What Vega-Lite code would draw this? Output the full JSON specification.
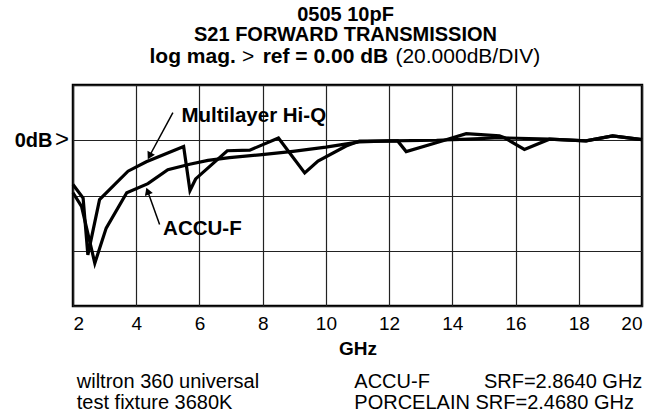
{
  "$schema": "https://vega.github.io/schema/vega-lite/v6.json",
  "width": 569,
  "height": 221,
  "autosize": {"type": "none"},
  "padding": {"left": 73, "top": 85, "right": 20, "bottom": 108},
  "background": "white",
  "config": {
    "font": "Liberation Sans",
    "view": {"stroke": "black", "strokeWidth": 2.5},
    "axis": {
      "grid": true,
      "gridColor": "#222",
      "gridWidth": 1.2,
      "gridOpacity": 1,
      "ticks": false,
      "domain": false,
      "labelColor": "black",
      "labelFont": "Liberation Sans",
      "titleFont": "Liberation Sans",
      "titleColor": "black"
    }
  },
  "title": {
    "text": ["0505 10pF", "S21 FORWARD TRANSMISSION"],
    "fontSize": 20,
    "fontWeight": "bold",
    "color": "black",
    "font": "Liberation Sans",
    "anchor": "middle",
    "frame": "group",
    "dx": -12,
    "lineHeight": 20,
    "offset": 1
  },
  "datasets": {
    "curves": [
      {"series": "Multilayer Hi-Q", "ghz": 2.0, "db": -16.0},
      {"series": "Multilayer Hi-Q", "ghz": 2.32, "db": -20.9},
      {"series": "Multilayer Hi-Q", "ghz": 2.47, "db": -41.5},
      {"series": "Multilayer Hi-Q", "ghz": 2.84, "db": -21.5},
      {"series": "Multilayer Hi-Q", "ghz": 3.74, "db": -11.2},
      {"series": "Multilayer Hi-Q", "ghz": 4.32, "db": -7.8},
      {"series": "Multilayer Hi-Q", "ghz": 5.5, "db": -2.3},
      {"series": "Multilayer Hi-Q", "ghz": 5.7, "db": -18.2},
      {"series": "Multilayer Hi-Q", "ghz": 5.88, "db": -14.0},
      {"series": "Multilayer Hi-Q", "ghz": 6.88, "db": -3.8},
      {"series": "Multilayer Hi-Q", "ghz": 7.59, "db": -3.6},
      {"series": "Multilayer Hi-Q", "ghz": 8.5, "db": 0.8},
      {"series": "Multilayer Hi-Q", "ghz": 9.33, "db": -11.8},
      {"series": "Multilayer Hi-Q", "ghz": 9.75, "db": -7.5},
      {"series": "Multilayer Hi-Q", "ghz": 10.64, "db": -2.1},
      {"series": "Multilayer Hi-Q", "ghz": 11.06, "db": -0.3},
      {"series": "Multilayer Hi-Q", "ghz": 12.27, "db": -0.25},
      {"series": "Multilayer Hi-Q", "ghz": 12.54, "db": -4.1},
      {"series": "Multilayer Hi-Q", "ghz": 13.49, "db": -0.9},
      {"series": "Multilayer Hi-Q", "ghz": 14.44, "db": 2.4},
      {"series": "Multilayer Hi-Q", "ghz": 15.49, "db": 1.6},
      {"series": "Multilayer Hi-Q", "ghz": 15.65, "db": 0.9},
      {"series": "Multilayer Hi-Q", "ghz": 16.28, "db": -3.3},
      {"series": "Multilayer Hi-Q", "ghz": 17.07, "db": 0.4},
      {"series": "Multilayer Hi-Q", "ghz": 18.23, "db": -0.25},
      {"series": "Multilayer Hi-Q", "ghz": 19.07, "db": 1.6},
      {"series": "Multilayer Hi-Q", "ghz": 20.0, "db": 0.2},
      {"series": "ACCU-F", "ghz": 2.0, "db": -19.0},
      {"series": "ACCU-F", "ghz": 2.27, "db": -23.9},
      {"series": "ACCU-F", "ghz": 2.69, "db": -44.5},
      {"series": "ACCU-F", "ghz": 3.05, "db": -31.8},
      {"series": "ACCU-F", "ghz": 3.7, "db": -19.0},
      {"series": "ACCU-F", "ghz": 4.37, "db": -15.7},
      {"series": "ACCU-F", "ghz": 5.0, "db": -10.7},
      {"series": "ACCU-F", "ghz": 5.69, "db": -8.7},
      {"series": "ACCU-F", "ghz": 6.27, "db": -7.3},
      {"series": "ACCU-F", "ghz": 6.95, "db": -6.3},
      {"series": "ACCU-F", "ghz": 7.9, "db": -5.3},
      {"series": "ACCU-F", "ghz": 8.96, "db": -4.0},
      {"series": "ACCU-F", "ghz": 10.0, "db": -2.5},
      {"series": "ACCU-F", "ghz": 11.06, "db": -0.6},
      {"series": "ACCU-F", "ghz": 12.0, "db": -0.2},
      {"series": "ACCU-F", "ghz": 13.5, "db": 0.0},
      {"series": "ACCU-F", "ghz": 14.5, "db": 0.4},
      {"series": "ACCU-F", "ghz": 15.5, "db": 0.9},
      {"series": "ACCU-F", "ghz": 17.07, "db": 0.4},
      {"series": "ACCU-F", "ghz": 18.23, "db": -0.25},
      {"series": "ACCU-F", "ghz": 19.07, "db": 1.6},
      {"series": "ACCU-F", "ghz": 20.0, "db": 0.2}
    ],
    "arrows": [
      {"series": "Multilayer Hi-Q", "ghz": 5.16, "db": 10.0, "ghz2": 4.42, "db2": -5.7},
      {"series": "ACCU-F", "ghz": 4.74, "db": -30.5, "ghz2": 4.36, "db2": -18.4}
    ],
    "boldNotes": [
      {"label": "Multilayer Hi-Q", "ghz": 5.43, "db": 8.8},
      {"label": "ACCU-F", "ghz": 4.85, "db": -32.3}
    ],
    "titleBold": [
      {"label": "log mag.", "ghz": 4.42, "db": 30.3},
      {"label": "ref = 0.00 dB", "ghz": 8.0, "db": 30.3}
    ],
    "titlePlain": [
      {"label": ">", "ghz": 7.35, "db": 30.3},
      {"label": "(20.000dB/DIV)", "ghz": 12.2, "db": 30.3}
    ],
    "plainNotes": [
      {"label": "wiltron 360 universal", "ghz": 2.12, "db": -87.5},
      {"label": "test fixture 3680K", "ghz": 2.12, "db": -95.2},
      {"label": "ACCU-F", "ghz": 10.9, "db": -87.5},
      {"label": "SRF=2.8640 GHz", "ghz": 15.0, "db": -87.5},
      {"label": "PORCELAIN SRF=2.4680 GHz", "ghz": 10.9, "db": -95.2}
    ],
    "refMark": [
      {"label": ">", "ghz": 2.0, "db": 0.0}
    ]
  },
  "layer": [
    {
      "data": {"name": "curves"},
      "mark": {"type": "line", "color": "black", "strokeWidth": 3.2, "strokeJoin": "miter"},
      "encoding": {
        "x": {
          "field": "ghz", "type": "quantitative",
          "scale": {"domain": [2, 20], "nice": false, "zero": false},
          "axis": {
            "values": [2, 4, 6, 8, 10, 12, 14, 16, 18, 20],
            "title": "GHz",
            "labelFontSize": 19,
            "labelPadding": 8,
            "titleFontSize": 19,
            "titleFontWeight": "bold",
            "titlePadding": 6
          }
        },
        "y": {
          "field": "db", "type": "quantitative",
          "scale": {"domain": [-60, 20], "nice": false, "zero": false},
          "axis": {
            "values": [-60, -40, -20, 0, 20],
            "title": null,
            "labelExpr": "datum.value == 0 ? '0dB' : ''",
            "labelFontSize": 20,
            "labelFontWeight": "bold",
            "labelPadding": 21
          }
        },
        "detail": {"field": "series", "type": "nominal"}
      }
    },
    {
      "data": {"name": "arrows"},
      "mark": {"type": "rule", "color": "black", "strokeWidth": 1.5},
      "encoding": {
        "x": {"field": "ghz", "type": "quantitative", "scale": {"domain": [2, 20], "nice": false, "zero": false}},
        "y": {"field": "db", "type": "quantitative", "scale": {"domain": [-60, 20], "nice": false, "zero": false}},
        "x2": {"field": "ghz2"},
        "y2": {"field": "db2"}
      }
    },
    {
      "data": {"name": "arrows"},
      "transform": [{"filter": "datum.series == 'Multilayer Hi-Q'"}],
      "mark": {"type": "point", "shape": "triangle-up", "filled": true, "color": "black", "opacity": 1, "size": 70, "angle": 208},
      "encoding": {
        "x": {"field": "ghz2", "type": "quantitative", "scale": {"domain": [2, 20], "nice": false, "zero": false}},
        "y": {"field": "db2", "type": "quantitative", "scale": {"domain": [-60, 20], "nice": false, "zero": false}}
      }
    },
    {
      "data": {"name": "arrows"},
      "transform": [{"filter": "datum.series == 'ACCU-F'"}],
      "mark": {"type": "point", "shape": "triangle-up", "filled": true, "color": "black", "opacity": 1, "size": 70, "angle": 340},
      "encoding": {
        "x": {"field": "ghz2", "type": "quantitative", "scale": {"domain": [2, 20], "nice": false, "zero": false}},
        "y": {"field": "db2", "type": "quantitative", "scale": {"domain": [-60, 20], "nice": false, "zero": false}}
      }
    },
    {
      "data": {"name": "boldNotes"},
      "mark": {"type": "text", "align": "left", "baseline": "middle", "fontWeight": "bold", "fontSize": 20.5, "color": "black", "font": "Liberation Sans"},
      "encoding": {
        "x": {"field": "ghz", "type": "quantitative", "scale": {"domain": [2, 20], "nice": false, "zero": false}},
        "y": {"field": "db", "type": "quantitative", "scale": {"domain": [-60, 20], "nice": false, "zero": false}},
        "text": {"field": "label", "type": "nominal"}
      }
    },
    {
      "data": {"name": "titleBold"},
      "mark": {"type": "text", "align": "left", "baseline": "middle", "fontWeight": "bold", "fontSize": 21, "color": "black", "font": "Liberation Sans"},
      "encoding": {
        "x": {"field": "ghz", "type": "quantitative", "scale": {"domain": [2, 20], "nice": false, "zero": false}},
        "y": {"field": "db", "type": "quantitative", "scale": {"domain": [-60, 20], "nice": false, "zero": false}},
        "text": {"field": "label", "type": "nominal"}
      }
    },
    {
      "data": {"name": "titlePlain"},
      "mark": {"type": "text", "align": "left", "baseline": "middle", "fontWeight": "normal", "fontSize": 21, "color": "black", "font": "Liberation Sans"},
      "encoding": {
        "x": {"field": "ghz", "type": "quantitative", "scale": {"domain": [2, 20], "nice": false, "zero": false}},
        "y": {"field": "db", "type": "quantitative", "scale": {"domain": [-60, 20], "nice": false, "zero": false}},
        "text": {"field": "label", "type": "nominal"}
      }
    },
    {
      "data": {"name": "plainNotes"},
      "mark": {"type": "text", "align": "left", "baseline": "middle", "fontWeight": "normal", "fontSize": 20, "color": "black", "font": "Liberation Sans"},
      "encoding": {
        "x": {"field": "ghz", "type": "quantitative", "scale": {"domain": [2, 20], "nice": false, "zero": false}},
        "y": {"field": "db", "type": "quantitative", "scale": {"domain": [-60, 20], "nice": false, "zero": false}},
        "text": {"field": "label", "type": "nominal"}
      }
    },
    {
      "data": {"name": "refMark"},
      "mark": {"type": "text", "align": "right", "baseline": "middle", "fontWeight": "normal", "fontSize": 24, "color": "black", "dx": -4, "font": "Liberation Sans"},
      "encoding": {
        "x": {"field": "ghz", "type": "quantitative", "scale": {"domain": [2, 20], "nice": false, "zero": false}},
        "y": {"field": "db", "type": "quantitative", "scale": {"domain": [-60, 20], "nice": false, "zero": false}},
        "text": {"field": "label", "type": "nominal"}
      }
    }
  ]
}
